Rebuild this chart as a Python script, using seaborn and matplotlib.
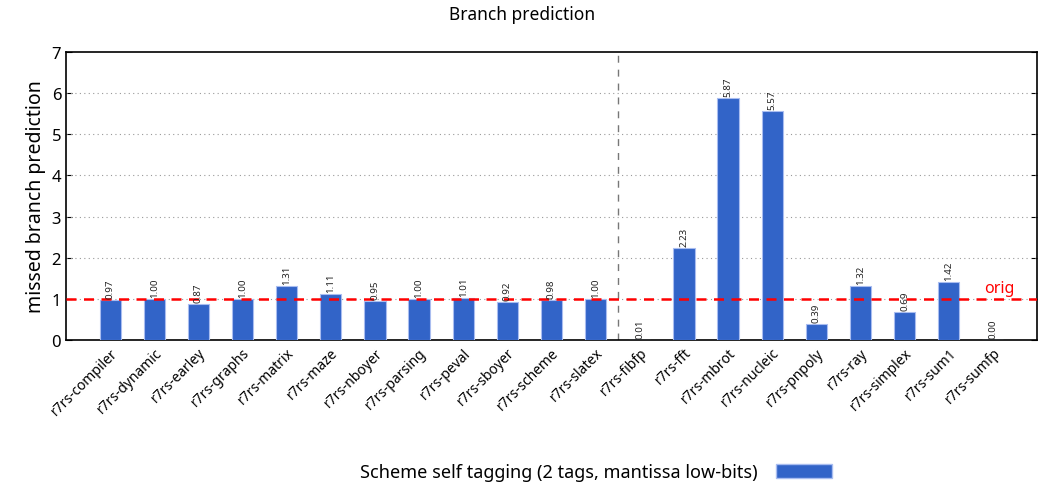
import matplotlib
matplotlib.use("Agg")
import matplotlib.pyplot as plt
import seaborn as sns
import pandas as pd
from matplotlib.patches import Patch

benchmarks = ["r7rs-compiler", "r7rs-dynamic", "r7rs-earley", "r7rs-graphs", "r7rs-matrix",
              "r7rs-maze", "r7rs-nboyer", "r7rs-parsing", "r7rs-peval", "r7rs-sboyer",
              "r7rs-scheme", "r7rs-slatex", "r7rs-fibfp", "r7rs-fft", "r7rs-mbrot",
              "r7rs-nucleic", "r7rs-pnpoly", "r7rs-ray", "r7rs-simplex", "r7rs-sum1", "r7rs-sumfp"]
ratios = [0.97, 1.00, 0.87, 1.00, 1.31, 1.11, 0.95, 1.00, 1.01, 0.92,
          0.98, 1.00, 0.01, 2.23, 5.87, 5.57, 0.39, 1.32, 0.69, 1.42, 0.00]
series_name = "Scheme self tagging (2 tags, mantissa low-bits)"

df = pd.DataFrame({"bench": benchmarks, "ratio": ratios})

sns.set_style("white")
plt.rcParams["font.family"] = ["Noto Sans", "DejaVu Sans"]
plt.rcParams["text.color"] = "black"
plt.rcParams["axes.labelcolor"] = "black"
plt.rcParams["xtick.color"] = "black"
plt.rcParams["ytick.color"] = "black"

bar_color = "#3264c8"

fig = plt.figure(figsize=(10.44, 4.89), dpi=100)
ax = fig.add_axes([66 / 1044, 1 - 341 / 489, (1037 - 66) / 1044, (341 - 53) / 489])

sns.barplot(data=df, x="bench", y="ratio", color=bar_color, saturation=1,
            width=0.48, edgecolor="#a9bdf0", linewidth=0.8, ax=ax, zorder=3)

# grid lines
for yv in range(1, 7):
    ax.axhline(yv, color="#999999", linestyle=(0, (1, 3)), linewidth=0.8, zorder=1)

# reference line
ax.axhline(1.0, color="red", linestyle=(0, (4, 3)), linewidth=1.8, zorder=4)
ax.text(20.5, 1.07, "orig", color="red", fontsize=11.5, ha="right", va="bottom")

# separator between integer and float benchmarks
ax.axvline(11.5, color="#777777", linestyle=(0, (5, 5)), linewidth=1.0, zorder=2)

# value labels
for i, v in enumerate(ratios):
    ax.text(i, v + 0.05, f"{v:.2f}", rotation=90, ha="center", va="bottom",
            fontsize=7, color="#222222", zorder=5)

ax.set_xlim(-1, 21)
ax.set_ylim(0, 7)
ax.set_yticks(range(0, 8))
ax.set_xlabel("")
ax.set_ylabel("missed branch prediction", fontsize=14)
ax.tick_params(axis="y", direction="in", length=4, labelsize=12, right=True, left=True)
ax.tick_params(axis="x", length=0, labelsize=10)
plt.setp(ax.get_xticklabels(), rotation=45, ha="right", rotation_mode="anchor")
for s in ax.spines.values():
    s.set_color("black")
    s.set_linewidth(1.2)

fig.text(0.5, 1 - 15 / 489, "Branch prediction", ha="center", va="center", fontsize=12.5)

handle = Patch(facecolor=bar_color, edgecolor="#a9bdf0")
fig.legend([handle], [series_name], loc="center", bbox_to_anchor=(0.571, 1 - 473 / 489),
           frameon=False, markerfirst=False, fontsize=13, handlelength=3.1, handleheight=0.8,
           handletextpad=1.0)

fig.savefig("out.png", dpi=100)
